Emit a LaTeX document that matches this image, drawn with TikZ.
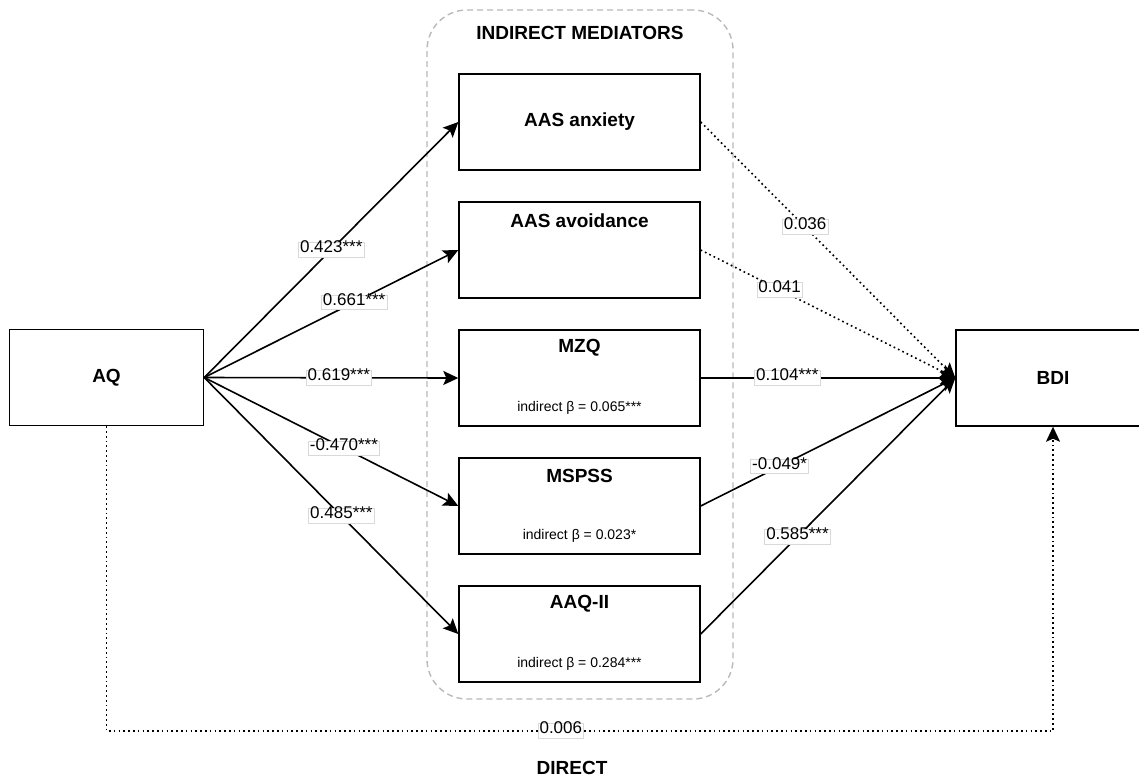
\documentclass[tikz,border=0pt]{standalone}
\usepackage{fontspec}
\setmainfont{Liberation Sans}
\usetikzlibrary{arrows.meta}

\begin{document}
\begin{tikzpicture}[x=1pt, y=-1pt,
    box/.style={draw, line width=1.4pt, minimum width=241pt, minimum height=96pt, inner sep=0pt},
    side/.style={box, minimum width=194pt},
    frame/.style={draw=gray!55, line width=1.4pt, dash pattern=on 6pt off 4pt, rounded corners=40pt, minimum width=306pt, minimum height=689pt, inner sep=0pt},
    head/.style={font=\fontsize{19}{22}\selectfont\bfseries, inner sep=0pt},
    sub/.style={font=\fontsize{14}{16}\selectfont, inner sep=0pt},
    coef/.style={solid, fill=white, draw=gray!30, line width=0.6pt, font=\fontsize{17}{19}\selectfont, inner xsep=1.5pt, inner ysep=2.5pt, text height=0.75em, text depth=0.2em},
    link/.style={line width=1.6pt, -{Stealth[length=15pt, width=14pt, inset=3pt]}},
    weak/.style={link, dash pattern=on 1.7pt off 3.1pt}]

    \useasboundingbox (0,0) rectangle (1139,780);

    \node[frame] (grp) at (580,354.5) {};
    \node[head] (grpt) at (580,32.5) {INDIRECT MEDIATORS};

    \node[side] (aq) at (106.5,377.5) {};
    \node[head] (aqt) at (106.5,377.5) {AQ};
    \node[side] (bdi) at (1053,378) {};
    \node[head] (bdit) at (1053,378) {BDI};

    \node[box] (anx) at (579.5,122) {};
    \node[box] (avo) at (579.5,250) {};
    \node[box] (mzq) at (579.5,378) {};
    \node[box] (msp) at (579.5,506) {};
    \node[box] (aaq) at (579.5,634) {};

    \node[head] (anxt) at (579.5,122) {AAS anxiety};
    \node[head] (avot) at (579.5,221) {AAS avoidance};
    \node[head] (mzqt) at (579.5,348) {MZQ};
    \node[sub] (mzqs) at (579.5,408) {indirect β = 0.065***};
    \node[head] (mspt) at (579.5,476) {MSPSS};
    \node[sub] (msps) at (579.5,536) {indirect β = 0.023*};
    \node[head] (aaqt) at (579.5,604) {AAQ-II};
    \node[sub] (aaqs) at (579.5,664) {indirect β = 0.284***};

    \draw [link] (aq.east) to node[coef, pos=0.50] {0.423***} (anx.west);
    \draw [link] (aq.east) to node[coef, pos=0.59] {0.661***} (avo.west);
    \draw [link] (aq.east) to node[coef, pos=0.53] {0.619***} (mzq.west);
    \draw [link] (aq.east) to node[coef, pos=0.55] {-0.470***} (msp.west);
    \draw [link] (aq.east) to node[coef, pos=0.54] {0.485***} (aaq.west);

    \draw [weak] (anx.east) to node[coef, pos=0.41] {0.036} (bdi.west);
    \draw [weak] (avo.east) to node[coef, pos=0.31] {0.041} (bdi.west);
    \draw [link] (mzq.east) to node[coef, pos=0.34] {0.104***} (bdi.west);
    \draw [link] (msp.east) to node[coef, pos=0.31] {-0.049*} (bdi.west);
    \draw [link] (aaq.east) to node[coef, pos=0.38] {0.585***} (bdi.west);

    \coordinate (dl) at (106.5,731);
    \coordinate (dr) at (1053,731);
    \draw [weak] (aq.south) -- (dl) -- node[coef, pos=0.48] {0.006} (dr) -- (bdi.south);
    \node[head] (dirt) at (572,768) {DIRECT};

\end{tikzpicture}
\end{document}
